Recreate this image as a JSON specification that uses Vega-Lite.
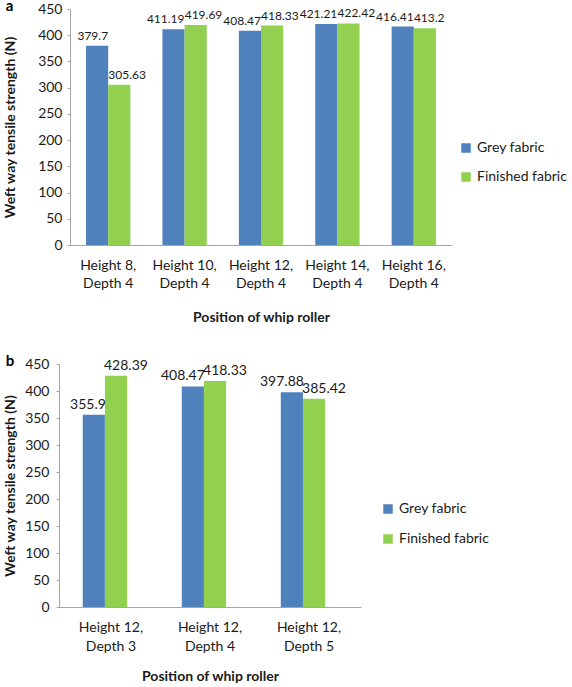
{
  "$schema": "https://vega.github.io/schema/vega-lite/v6.json",
  "padding": {"left": 3, "top": -1, "right": 0, "bottom": 0},
  "config": {
    "font": "Lato",
    "view": {"stroke": null},
    "axis": {
      "labelFont": "Lato", "labelFontSize": 14, "labelColor": "#1a1a1a",
      "titleFont": "Lato", "titleFontSize": 14, "titleFontWeight": "bold", "titleColor": "#1a1a1a",
      "domainColor": "#a6a6a6", "tickColor": "#a6a6a6", "grid": false
    },
    "legend": {"labelFont": "Lato", "labelFontSize": 14, "labelColor": "#1a1a1a"}
  },
  "columns": 1,
  "spacing": 30,
  "resolve": {"scale": {"color": "independent", "x": "independent", "y": "independent"}, "legend": {"color": "independent"}},
  "concat": [
    {
      "width": 393, "height": 236,
      "title": {"text": "a", "anchor": "start", "frame": "bounds", "fontSize": 15, "fontWeight": "bold", "font": "Lato", "offset": 0, "baseline": "top", "dx": 2, "dy": 12},
      "data": {"values": [
        {"position": "Height 8, Depth 4", "fabric": "Grey fabric", "strength": 379.7},
        {"position": "Height 8, Depth 4", "fabric": "Finished fabric", "strength": 305.63},
        {"position": "Height 10, Depth 4", "fabric": "Grey fabric", "strength": 411.19},
        {"position": "Height 10, Depth 4", "fabric": "Finished fabric", "strength": 419.69},
        {"position": "Height 12, Depth 4", "fabric": "Grey fabric", "strength": 408.47},
        {"position": "Height 12, Depth 4", "fabric": "Finished fabric", "strength": 418.33},
        {"position": "Height 14, Depth 4", "fabric": "Grey fabric", "strength": 421.21},
        {"position": "Height 14, Depth 4", "fabric": "Finished fabric", "strength": 422.42},
        {"position": "Height 16, Depth 4", "fabric": "Grey fabric", "strength": 416.41},
        {"position": "Height 16, Depth 4", "fabric": "Finished fabric", "strength": 413.2}
      ]},
      "encoding": {
        "x": {"field": "position", "type": "nominal", "sort": null,
          "scale": {"range": [11, 393], "paddingInner": 0.42, "paddingOuter": 0.21},
          "axis": {"title": "Position of whip roller", "labelAngle": 0, "ticks": false, "tickSize": 0, "labelPadding": 13, "labelLineHeight": 18, "titlePadding": 20,
            "labelExpr": "[split(datum.label, ', ')[0] + ',', split(datum.label, ', ')[1]]"}},
        "xOffset": {"field": "fabric", "type": "nominal", "sort": ["Grey fabric", "Finished fabric"], "scale": {"paddingInner": 0, "paddingOuter": 0}},
        "y": {"field": "strength", "type": "quantitative", "scale": {"domain": [0, 450]},
          "axis": {"title": "Weft way tensile strength (N)", "offset": -11, "values": [0, 50, 100, 150, 200, 250, 300, 350, 400, 450], "tickSize": 3, "labelPadding": 5, "titlePadding": 20}}
      },
      "layer": [
        {"mark": {"type": "bar"},
          "encoding": {"color": {"field": "fabric", "type": "nominal", "sort": ["Grey fabric", "Finished fabric"],
            "scale": {"domain": ["Grey fabric", "Finished fabric"], "range": ["#4F81BD", "#92D050"]},
            "legend": {"title": null, "orient": "none", "legendX": 400, "legendY": 132, "symbolType": "square", "symbolSize": 90, "symbolStrokeWidth": 0, "rowPadding": 15, "labelOffset": 4}}}},
        {"transform": [{"filter": "datum.fabric === 'Grey fabric'"}],
          "mark": {"type": "text", "baseline": "bottom", "align": "right", "dx": 11, "dy": -3, "fontSize": 12, "color": "#1a1a1a"},
          "encoding": {"text": {"field": "strength", "type": "quantitative"}}},
        {"transform": [{"filter": "datum.fabric === 'Finished fabric'"}],
          "mark": {"type": "text", "baseline": "bottom", "align": "left", "dx": -11, "dy": -3, "fontSize": 12, "color": "#1a1a1a"},
          "encoding": {"text": {"field": "strength", "type": "quantitative"}}}
      ]
    },
    {
      "width": 302, "height": 243,
      "title": {"text": "b", "anchor": "start", "frame": "bounds", "fontSize": 15, "fontWeight": "bold", "font": "Lato", "offset": 0, "baseline": "top", "dx": 2, "dy": 12},
      "data": {"values": [
        {"position": "Height 12, Depth 3", "fabric": "Grey fabric", "strength": 355.9},
        {"position": "Height 12, Depth 3", "fabric": "Finished fabric", "strength": 428.39},
        {"position": "Height 12, Depth 4", "fabric": "Grey fabric", "strength": 408.47},
        {"position": "Height 12, Depth 4", "fabric": "Finished fabric", "strength": 418.33},
        {"position": "Height 12, Depth 5", "fabric": "Grey fabric", "strength": 397.88},
        {"position": "Height 12, Depth 5", "fabric": "Finished fabric", "strength": 385.42}
      ]},
      "encoding": {
        "x": {"field": "position", "type": "nominal", "sort": null,
          "scale": {"paddingInner": 0.43, "paddingOuter": 0.24},
          "axis": {"title": "Position of whip roller", "labelAngle": 0, "ticks": false, "tickSize": 0, "labelPadding": 13, "labelLineHeight": 19, "titlePadding": 16,
            "labelExpr": "[split(datum.label, ', ')[0] + ',', split(datum.label, ', ')[1]]"}},
        "xOffset": {"field": "fabric", "type": "nominal", "sort": ["Grey fabric", "Finished fabric"], "scale": {"paddingInner": 0, "paddingOuter": 0}},
        "y": {"field": "strength", "type": "quantitative", "scale": {"domain": [0, 450]},
          "axis": {"title": "Weft way tensile strength (N)", "values": [0, 50, 100, 150, 200, 250, 300, 350, 400, 450], "tickSize": 3, "labelPadding": 7, "titlePadding": 7}}
      },
      "layer": [
        {"mark": {"type": "bar"},
          "encoding": {"color": {"field": "fabric", "type": "nominal", "sort": ["Grey fabric", "Finished fabric"],
            "scale": {"domain": ["Grey fabric", "Finished fabric"], "range": ["#4F81BD", "#92D050"]},
            "legend": {"title": null, "orient": "none", "legendX": 322, "legendY": 138, "symbolType": "square", "symbolSize": 90, "symbolStrokeWidth": 0, "rowPadding": 16, "labelOffset": 4}}}},
        {"transform": [{"filter": "datum.fabric === 'Grey fabric'"}],
          "mark": {"type": "text", "baseline": "bottom", "align": "right", "dx": 12, "dy": -3, "fontSize": 14, "color": "#1a1a1a"},
          "encoding": {"text": {"field": "strength", "type": "quantitative"}}},
        {"transform": [{"filter": "datum.fabric === 'Finished fabric'"}],
          "mark": {"type": "text", "baseline": "bottom", "align": "left", "dx": -12, "dy": -3, "fontSize": 14, "color": "#1a1a1a"},
          "encoding": {"text": {"field": "strength", "type": "quantitative"}}}
      ]
    }
  ]
}
